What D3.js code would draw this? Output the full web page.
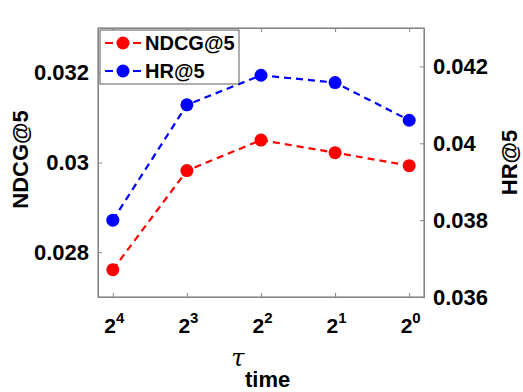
<!DOCTYPE html>
<html>
<head>
<meta charset="UTF-8">
<title>tau time</title>
<style>
  body { margin: 0; background: #fff; }
  text { font-family: "Liberation Sans", Arial, sans-serif; font-weight: bold; fill: #000; }
</style>
</head>
<body>
<svg width="523" height="392"></svg>
<script src="https://cdn.jsdelivr.net/npm/d3@7"></script>
<script>
  // data
  const exponents = [4, 3, 2, 1, 0];
  const ndcg = [0.02761, 0.02982, 0.0305, 0.03022, 0.02993];
  const hr = [0.0380, 0.0410, 0.04177, 0.04158, 0.0406];
  const leftTicks = [0.028, 0.030, 0.032];
  const rightTicks = [0.036, 0.038, 0.040, 0.042];

  const svg = d3.select("svg"),
    margin = { top: 28, right: 99, bottom: 95, left: 98 },
    width = +svg.attr("width") - margin.left - margin.right,
    height = +svg.attr("height") - margin.top - margin.bottom,
    g = svg.append("g").attr("transform", `translate(${margin.left},${margin.top})`);

  const x = d3.scaleLinear().domain([-0.2, 4.2]).range([0, width]);
  const yL = d3.scaleLinear().domain([0.027, 0.033]).range([height, 0]);
  const yR = d3.scaleLinear().domain([0.036, 0.043]).range([height, 0]);

  const axisColor = "#858585";
  const fmt = d => d3.format("")(+d.toFixed(3));

  // box
  g.append("rect").attr("width", width).attr("height", height)
    .attr("fill", "none").attr("stroke", axisColor).attr("stroke-width", 1.2);

  // left axis
  const leftAx = g.append("g").call(d3.axisLeft(yL).tickValues(leftTicks).tickSize(-4).tickPadding(9).tickFormat(fmt));
  // right axis
  const rightAx = g.append("g").attr("transform", `translate(${width},0)`)
    .call(d3.axisRight(yR).tickValues(rightTicks).tickSize(-4).tickPadding(9).tickFormat(fmt));
  // bottom axis
  const bottomAx = g.append("g").attr("transform", `translate(0,${height})`)
    .call(d3.axisBottom(x).tickValues(d3.range(5)).tickSize(-4).tickFormat(""));
  // top ticks
  const topAx = g.append("g").call(d3.axisTop(x).tickValues(d3.range(5)).tickSize(-4).tickFormat(""));

  [leftAx, rightAx, bottomAx, topAx].forEach(a => {
    a.select(".domain").attr("stroke", axisColor);
    a.selectAll(".tick line").attr("stroke", axisColor);
    a.selectAll("text").attr("font-size", 22).attr("font-family", null).attr("fill", "#000");
  });

  // x tick labels as powers of two
  bottomAx.selectAll(".tick").each(function (d, i) {
    const t = d3.select(this).append("text").attr("y", 36).attr("x", 1).attr("text-anchor", "middle")
      .attr("font-size", 21).attr("fill", "#000");
    t.append("tspan").text("2");
    t.append("tspan").attr("font-size", 15).attr("dy", -10).text(exponents[i]);
  });

  // axis titles
  svg.append("text").attr("transform", `translate(28,${margin.top + height / 2 - 3}) rotate(-90)`)
    .attr("text-anchor", "middle").attr("font-size", 22).text("NDCG@5");
  svg.append("text").attr("transform", `translate(517,${margin.top + height / 2}) rotate(-90)`)
    .attr("text-anchor", "middle").attr("font-size", 22).text("HR@5");
  svg.append("text").attr("x", 238).attr("y", 366).attr("text-anchor", "middle")
    .attr("font-size", 24)
    .style("font-style", "italic").style("font-weight", "normal").style("font-family", "'DejaVu Serif', serif")
    .text("τ");
  svg.append("text").attr("x", 245).attr("y", 387).attr("font-size", 22).text("time");

  // series
  const series = [
    { name: "NDCG@5", values: ndcg, y: yL, color: "#ff0000" },
    { name: "HR@5", values: hr, y: yR, color: "#0000ff" }
  ];

  series.forEach(s => {
    const line = d3.line().x((d, i) => x(i)).y(d => s.y(d));
    g.append("path").datum(s.values).attr("d", line).attr("fill", "none")
      .attr("stroke", s.color).attr("stroke-width", 2.2).attr("stroke-dasharray", "7,5");
    g.selectAll(null).data(s.values).enter().append("circle")
      .attr("cx", (d, i) => x(i)).attr("cy", d => s.y(d)).attr("r", 6.5).attr("fill", s.color);
  });

  // legend
  const lg = g.append("g").attr("transform", "translate(2,2)");
  lg.append("rect").attr("width", 139).attr("height", 54).attr("fill", "#fff")
    .attr("stroke", "#333").attr("stroke-width", 0.8);
  series.forEach((s, i) => {
    const yy = 13 + i * 28;
    lg.append("line").attr("x1", 5).attr("x2", 43).attr("y1", yy).attr("y2", yy)
      .attr("stroke", s.color).attr("stroke-width", 2.2).attr("stroke-dasharray", "8,6");
    lg.append("circle").attr("cx", 23).attr("cy", yy).attr("r", 6.5).attr("fill", s.color);
    lg.append("text").attr("x", 45).attr("y", yy + 7).attr("font-size", 20).text(s.name);
  });
</script>
</body>
</html>
